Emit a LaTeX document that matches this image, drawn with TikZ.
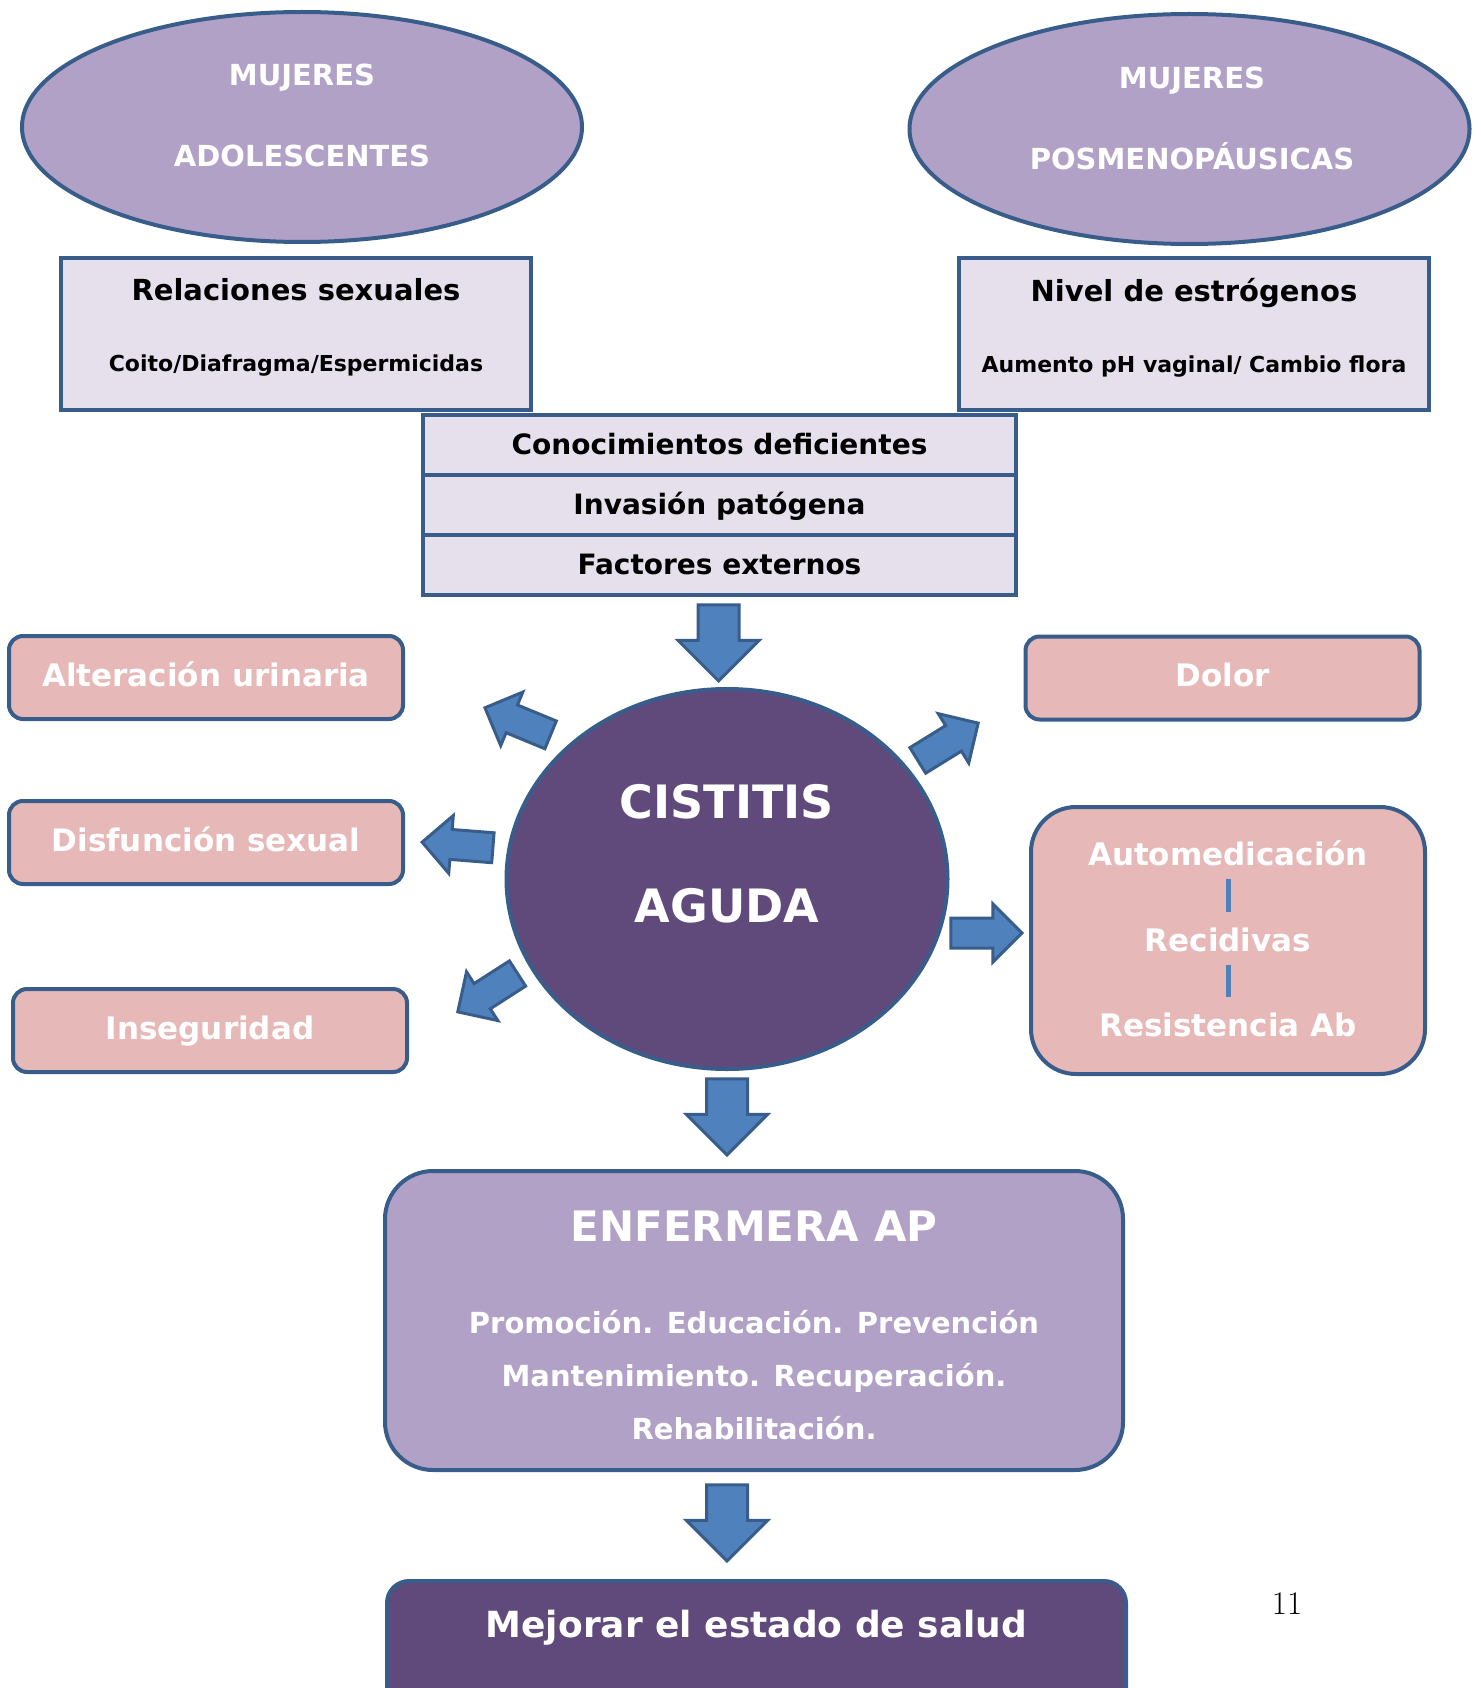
\documentclass[tikz,border=0pt]{standalone}
\usepackage{fontspec}
\setsansfont{DejaVu Sans}
\renewcommand{\familydefault}{\sfdefault}
\usepackage{xcolor}
\usepackage{tikz}
\usetikzlibrary{positioning, shapes.geometric, shapes.arrows}
\definecolor{edge}{RGB}{56, 93, 138}
\definecolor{lilac}{RGB}{178, 161, 199}
\definecolor{pale}{RGB}{229, 224, 236}
\definecolor{rose}{RGB}{230, 185, 184}
\definecolor{plum}{RGB}{96, 74, 123}
\definecolor{arrowblue}{RGB}{79, 129, 189}

\begin{document}
\begin{tikzpicture}[
        x=1pt, y=1pt,
        group/.style={ellipse, draw=edge, fill=#1, line width=4pt, minimum width=560pt, minimum height=230pt},
        grouptext/.style={text=white, align=center, font=\fontsize{29}{81}\selectfont\bfseries},
        factor/.style={rectangle, draw=edge, fill=pale, line width=4pt, minimum width=470pt, minimum height=152pt, align=center, text depth=18pt, font=\fontsize{29}{35}\selectfont\bfseries},
        cause/.style={rectangle, draw=edge, fill=pale, line width=4pt, minimum width=593pt, minimum height=60pt, inner sep=0pt, outer sep=0pt, text height=21pt, text depth=3pt, font=\fontsize{28}{34}\selectfont\bfseries},
        effect/.style={rectangle, draw=edge, fill=rose, line width=4pt, rounded corners=14pt, minimum width=394pt, minimum height=83pt, text=white, text height=23pt, text depth=6pt, font=\fontsize{31}{37}\selectfont\bfseries},
        effecttext/.style={text=white, inner sep=0pt, text height=23pt, text depth=6pt, font=\fontsize{31}{37}\selectfont\bfseries},
        linkbar/.style={arrowblue, line width=5pt, shorten <=8pt, shorten >=16pt},
        bigarrow/.style={single arrow, draw=edge, fill=arrowblue, line width=3pt, inner xsep=0pt, inner ysep=19pt, single arrow head extend=20pt, minimum height=76pt, anchor=tip},
        sidearrow/.style={bigarrow, inner ysep=13.5pt, single arrow head extend=14pt, minimum height=71pt},
        nursebox/.style={rectangle, draw=edge, fill=lilac, line width=4pt, rounded corners=48pt, minimum width=738pt, minimum height=299pt, text=white, align=center, font=\fontsize{29}{53}\selectfont\bfseries},
        goalbox/.style={rectangle, draw=edge, fill=plum, line width=4pt, rounded corners=22pt, minimum width=739pt, text=white, text height=27pt, text depth=75pt, inner ysep=29pt, anchor=north, font=\fontsize{36}{43}\selectfont\bfseries}
    ]
        \useasboundingbox (0,0) rectangle (1480,-1688);

        \node (teen) [group=lilac] at (302,-127) {};
        \node (teentext) [grouptext] at (302,-115.5) {MUJERES\\ADOLESCENTES};
        \node (meno) [group=lilac] at (1189.5,-129) {};
        \node (menotext) [grouptext] at (1192,-118) {MUJERES\\POSMENOPÁUSICAS};

        \node (sexual) [factor] at (296,-334) {Relaciones sexuales\\[36pt]{\fontsize{22}{26}\selectfont Coito/Diafragma/Espermicidas}};
        \node (estrogen) [factor] at (1194,-334) {Nivel de estrógenos\\[36pt]{\fontsize{22}{26}\selectfont Aumento pH vaginal/ Cambio flora}};

        \node (knowledge) [cause] at (719.5,-445) {Conocimientos deficientes};
        \node (invasion) [cause, below=0pt of knowledge] {Invasión patógena};
        \node (external) [cause, below=0pt of invasion] {Factores externos};

        \node (cystitis) [group=plum, minimum width=441pt, minimum height=380pt] at (727,-879) {};
        \node (cystitistext) [grouptext, font=\fontsize{46}{104}\selectfont\bfseries] at (727,-854) {CISTITIS\\AGUDA};

        \node (urinary) [effect] at (206,-677.5) {Alteración urinaria};
        \node (dysfunction) [effect] at (206,-842.5) {Disfunción sexual};
        \node (insecurity) [effect] at (210,-1030.5) {Inseguridad};
        \node (pain) [effect] at (1222.5,-678) {Dolor};
        \node (selfcare) [effect, rounded corners=45pt, minimum height=267pt] at (1228,-940.5) {};
        \node (selfmed) [effecttext] at (1228,-856.5) {Automedicación};
        \node (relapse) [effecttext] at (1228,-942.5) {Recidivas};
        \node (resistance) [effecttext] at (1228,-1027.5) {Resistencia Ab};
        \draw[linkbar] (selfmed) -- (relapse);
        \draw[linkbar] (relapse) -- (resistance);

        \node (toparrow) [bigarrow, rotate=-90] at (718.5,-683) {};
        \node (arrowurinary) [sidearrow, rotate=157.6] at (483,-707) {};
        \node (arrowdysfunction) [sidearrow, rotate=175.5] at (420,-842) {};
        \node (arrowinsecurity) [sidearrow, rotate=212.7] at (456,-1013) {};
        \node (arrowpain) [sidearrow, rotate=31.7] at (980,-722) {};
        \node (arrowselfcare) [sidearrow] at (1024,-933) {};
        \node (midarrow) [bigarrow, rotate=-90] at (727,-1157) {};

        \node (nurse) [nursebox] at (754,-1320.5) {{\fontsize{42}{50}\selectfont\rule{0pt}{41pt}ENFERMERA AP}\\[39pt]Promoción. Educación. Prevención\\Mantenimiento. Recuperación.\\Rehabilitación.};
        \node (lowarrow) [bigarrow, rotate=-90] at (727,-1563) {};
        \node (goal) [goalbox] at (756.5,-1579) {Mejorar el estado de salud};

        \node (pagenum) [font=\rmfamily\fontsize{33}{40}\selectfont] at (1287,-1604) {11};
    \end{tikzpicture}
\end{document}
